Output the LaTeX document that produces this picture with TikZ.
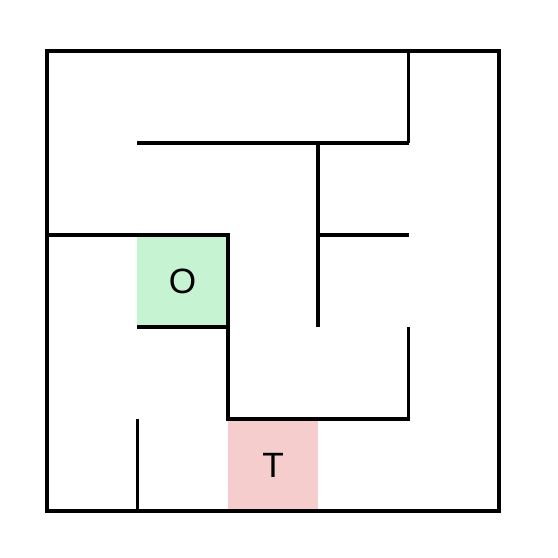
\documentclass[tikz,border=0pt]{standalone}
\usepackage{fontspec}
\setmainfont{Liberation Sans}
\usepackage{tikz}
\definecolor{start}{HTML}{C6F4D3}
\definecolor{goal}{HTML}{F5CDCC}
\begin{document}
\begin{tikzpicture}[x=0.904cm,y=-0.92cm,wall/.style={line width=1.05pt},cell/.style={minimum width=0.904cm,minimum height=0.92cm,inner sep=0pt,font=\fontsize{10}{12}\selectfont}]
\useasboundingbox (-0.47cm,0.51cm) rectangle (5.11cm,-5.07cm);
\node[cell,fill=start] (o) at (1.5,2.5) {O};
\node[cell,fill=goal] (t) at (2.5,4.5) {T};
\draw[wall] (0,0) rectangle (5,5);
\draw[wall] (4,0)--(4,1);
\draw[wall] (1,1)--(4,1);
\draw[wall] (3,1)--(3,3);
\draw[wall] (3,2)--(4,2);
\draw[wall] (0,2)--(2,2)--(2,4)--(4,4)--(4,3);
\draw[wall] (1,3)--(2,3);
\draw[wall] (1,4)--(1,5);
\end{tikzpicture}
\end{document}
